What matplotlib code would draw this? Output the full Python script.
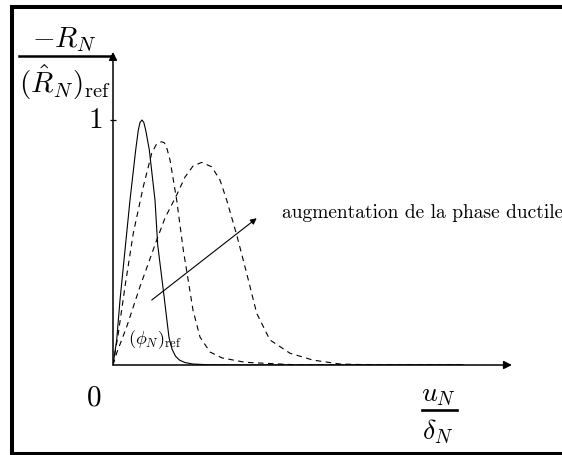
import numpy as np
import matplotlib.pyplot as plt
from matplotlib.lines import Line2D

plt.rcParams['mathtext.fontset'] = 'cm'

# traction-separation curves, normalised: x = u_N / delta_N, y = -R_N / (R_N)_ref
ref_x = [0.0, 0.037, 0.07, 0.13, 0.17, 0.227, 0.253, 0.27, 0.29, 0.308, 0.327,
         0.363, 0.42, 0.447, 0.503, 0.56, 0.59, 0.625, 0.665, 0.72, 0.8, 0.95, 1.2, 3.5]
ref_y = [0.0, 0.102, 0.265, 0.51, 0.673, 0.878, 0.959, 0.99, 1.0, 0.99, 0.959,
         0.878, 0.673, 0.49, 0.306, 0.112, 0.065, 0.036, 0.02, 0.01, 0.004, 0.001, 0.0, 0.0]

mid_x = [0.0, 0.02, 0.053, 0.12, 0.203, 0.303, 0.387, 0.43, 0.46, 0.487, 0.51, 0.53, 0.57,
         0.637, 0.703, 0.74, 0.80, 0.87, 0.97, 1.09, 1.32, 1.87, 3.5]
mid_y = [0.0, 0.049, 0.129, 0.320, 0.538, 0.728, 0.864, 0.898, 0.908, 0.911, 0.908, 0.898, 0.837,
         0.673, 0.469, 0.376, 0.224, 0.114, 0.053, 0.029, 0.011, 0.0, 0.0]

wide_x = [0.0, 0.037, 0.137, 0.27, 0.437, 0.52, 0.637, 0.72, 0.80, 0.887, 0.987,
          1.07, 1.137, 1.237, 1.337, 1.437, 1.57, 1.77, 2.0, 2.27, 2.67, 3.5]
wide_y = [0.0, 0.049, 0.156, 0.320, 0.510, 0.600, 0.694, 0.767, 0.812, 0.827, 0.809,
          0.755, 0.673, 0.531, 0.374, 0.211, 0.102, 0.048, 0.020, 0.004, 0.0, 0.0]

fig = plt.figure(figsize=(5.62, 4.55), dpi=100)
ax = fig.add_axes([113 / 562, 90 / 455, 400 / 562, 318.5 / 455])
ax.set_xlim(0, 4)
ax.set_ylim(0, 1.3)
for s in ax.spines.values():
    s.set_visible(False)
ax.set_xticks([])
ax.set_yticks([1])
ax.set_yticklabels([])
ax.tick_params(axis='y', direction='inout', length=5, width=0.9)

ax.plot(ref_x, ref_y, color='black', lw=0.8)
ax.plot(mid_x, mid_y, color='black', lw=0.8, dashes=(5, 4))
ax.plot(wide_x, wide_y, color='black', lw=0.8, dashes=(5, 4))

# axes with arrow heads
arrow = dict(arrowstyle='-|>', color='black', lw=1.1, mutation_scale=12, shrinkA=0, shrinkB=0)
ax.annotate('', xy=(3.99, 0), xytext=(0, 0), arrowprops=arrow, annotation_clip=False)
ax.annotate('', xy=(0, 1.278), xytext=(0, 0), arrowprops=arrow, annotation_clip=False)

# trend arrow
ax.annotate('', xy=(1.437, 0.599), xytext=(0.387, 0.265),
            arrowprops=dict(arrowstyle='-|>', color='black', lw=0.8, mutation_scale=9,
                            shrinkA=0, shrinkB=0))
ax.text(1.69, 0.601, 'augmentation de la phase ductile', family='cmr10',
        fontsize=14, ha='left', va='baseline')
ax.text(0.15, 0.102, r'$(\phi_N)_{\mathrm{ref}}$', fontsize=13, ha='left', va='center')

# axis labels
ax.text(-0.49, 1.327, r'$-R_N$', fontsize=21, ha='center', va='center')
ax.plot([-0.94, 0], [1.261, 1.261], color='black', lw=1.8, clip_on=False)
ax.text(-0.48, 1.155, r'$(\hat{R}_N)_{\mathrm{ref}}$', fontsize=21, ha='center', va='center')
ax.text(-0.18, 1.0, r'$1$', fontsize=21, ha='center', va='center')
ax.text(-0.19, -0.131, r'$0$', fontsize=21, ha='center', va='center')
ax.text(3.25, -0.118, r'$u_N$', fontsize=20, ha='center', va='center')
ax.plot([3.087, 3.443], [-0.182, -0.182], color='black', lw=1.9, clip_on=False)
ax.text(3.25, -0.273, r'$\delta_N$', fontsize=20, ha='center', va='center')

# frame open on the right side
fx = 12 / 562
ftop = 1 - 7 / 455
fbot = 1 - 453.5 / 455
for xs, ys in [([fx, 1.01], [ftop, ftop]), ([fx, fx], [fbot, ftop]), ([fx, 1.01], [fbot, fbot])]:
    fig.add_artist(Line2D(xs, ys, transform=fig.transFigure, color='black',
                          lw=2.9, solid_capstyle='projecting'))

fig.savefig('out.png', dpi=100)
